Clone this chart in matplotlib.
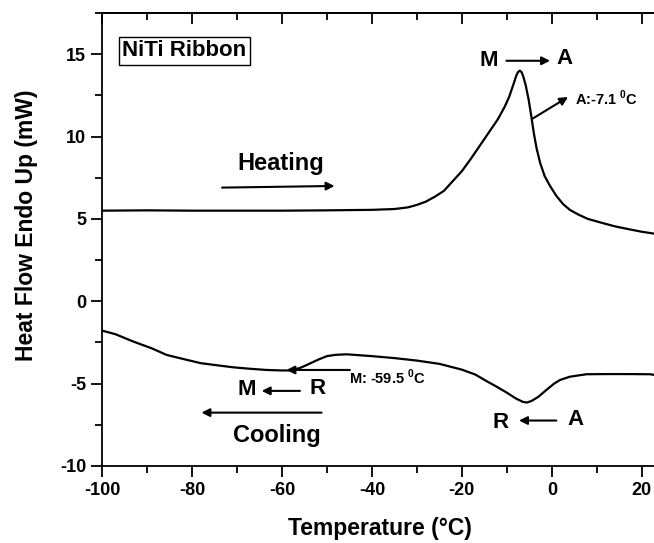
import matplotlib
matplotlib.use('Agg')
import matplotlib.pyplot as plt
from matplotlib.ticker import MultipleLocator

plt.rcParams['font.family'] = ['Liberation Sans', 'DejaVu Sans']
plt.rcParams['font.weight'] = 'bold'
plt.rcParams['axes.unicode_minus'] = False
plt.rcParams['mathtext.fontset'] = 'custom'
plt.rcParams['mathtext.rm'] = 'Liberation Sans:bold'
plt.rcParams['mathtext.bf'] = 'Liberation Sans:bold'

# heating scan
heat_T = [-100, -90, -80, -70, -60, -50, -40, -35, -32, -30, -28, -26, -24, -22, -20,
          -18, -16, -14, -12, -10.5, -9.5, -8.5, -7.9, -7.5, -7.1, -6.7, -6.3, -5.8, -5.2,
          -4.6, -4.0, -3.4, -2.6, -1.6, -0.4, 1.0, 2.5, 4.0, 6, 8, 11.4, 14, 17, 20, 23.6]
heat_Q = [5.5, 5.52, 5.5, 5.5, 5.5, 5.52, 5.55, 5.6, 5.7, 5.85, 6.05, 6.35, 6.7, 7.3, 7.9,
          8.65, 9.45, 10.25, 11.05, 11.8, 12.4, 13.2, 13.7, 13.92, 14.0, 13.9, 13.6, 13.1, 12.3,
          11.3, 10.2, 9.3, 8.4, 7.6, 7.0, 6.4, 5.9, 5.55, 5.25, 5.0, 4.74, 4.55, 4.38, 4.22, 4.07]

# cooling scan
cool_T = [-100, -97, -93, -89, -85.6, -82, -78, -74, -70.8, -67, -63.4, -60, -58, -56,
          -54.5, -52, -50, -48, -45.6, -40, -35, -30, -25, -20, -17, -14.5, -12.3, -10,
          -8, -6.5, -5.6, -4.5, -3, -1.2, 0.5, 1.8, 4, 7.7, 12, 17, 21.8, 23.6]
cool_Q = [-1.78, -2.0, -2.45, -2.85, -3.26, -3.5, -3.76, -3.9, -4.01, -4.1, -4.17, -4.2, -4.2, -4.05,
          -3.87, -3.55, -3.33, -3.25, -3.22, -3.33, -3.45, -3.6, -3.8, -4.15, -4.45, -4.85, -5.18, -5.55,
          -5.9, -6.1, -6.15, -6.05, -5.8, -5.38, -5.0, -4.78, -4.58, -4.43, -4.42, -4.42, -4.43, -4.5]

x_ticks = [-100, -80, -60, -40, -20, 0, 20]
y_ticks = [-10, -5, 0, 5, 10, 15]

fig = plt.figure(figsize=(6.54, 5.43), dpi=100)
ax = fig.add_axes([102 / 654, 77 / 543, 556 / 654, 453 / 543])

ax.plot(heat_T, heat_Q, color='black', lw=1.6)
ax.plot(cool_T, cool_Q, color='black', lw=1.6)

ax.set_xlim(-100, 23.6)
ax.set_ylim(-10, 17.5)
ax.set_xticks(x_ticks)
ax.set_yticks(y_ticks)
ax.xaxis.set_minor_locator(MultipleLocator(10))
ax.yaxis.set_minor_locator(MultipleLocator(2.5))
ax.tick_params(which='major', direction='out', length=8, width=1.3, labelsize=13)
ax.tick_params(which='minor', direction='out', length=5, width=1.3)
ax.spines['right'].set_visible(False)
for s in ['left', 'bottom', 'top']:
    ax.spines[s].set_linewidth(1.3)

top = ax.secondary_xaxis('top')
top.set_xticks(x_ticks)
top.xaxis.set_minor_locator(MultipleLocator(10))
top.tick_params(which='major', direction='in', length=8, width=1.3, labeltop=False)
top.tick_params(which='minor', direction='in', length=5, width=1.3)
top.spines['top'].set_linewidth(1.3)

ax.set_xlabel('Temperature (°C)', fontsize=16.5, fontweight='bold', labelpad=13)
ax.set_ylabel('Heat Flow Endo Up (mW)', fontsize=16.5, fontweight='bold')
ax.yaxis.set_label_coords(-0.1155, 0.532)

ax.text(-95.5, 15.2, 'NiTi Ribbon', fontsize=16, fontweight='bold', va='center', ha='left',
        bbox=dict(boxstyle='square,pad=0.15', fc='white', ec='black', lw=1))

arr = dict(arrowstyle='-|>', color='black', lw=1.5, mutation_scale=12, shrinkA=0, shrinkB=0)

# heating
ax.text(-60.2, 8.34, 'Heating', fontsize=17, fontweight='bold', ha='center', va='center')
ax.annotate('', xy=(-48.3, 7.0), xytext=(-73.3, 6.9), arrowprops=arr)
ax.text(-14.0, 14.6, 'M', fontsize=16, fontweight='bold', ha='center', va='center')
ax.annotate('', xy=(-0.4, 14.6), xytext=(-10.1, 14.6), arrowprops=arr)
ax.text(2.9, 14.75, 'A', fontsize=16, fontweight='bold', ha='center', va='center')
ax.annotate('', xy=(3.6, 12.4), xytext=(-4.2, 11.1), arrowprops=arr)
ax.text(5.1, 12.3, r'A:-7.1 $^{0}$C', fontsize=10.5, fontweight='bold', ha='left', va='center')

# cooling
ax.annotate('', xy=(-59.0, -4.17), xytext=(-44.9, -4.17), arrowprops=arr)
ax.text(-45.1, -4.6, r'M: -59.5 $^{0}$C', fontsize=10.5, fontweight='bold', ha='left', va='center')
ax.text(-67.8, -5.37, 'M', fontsize=16, fontweight='bold', ha='center', va='center')
ax.annotate('', xy=(-64.5, -5.44), xytext=(-56.0, -5.44), arrowprops=arr)
ax.text(-52.1, -5.27, 'R', fontsize=16, fontweight='bold', ha='center', va='center')
ax.annotate('', xy=(-77.9, -6.76), xytext=(-51.2, -6.76), arrowprops=arr)
ax.text(-61.2, -8.15, 'Cooling', fontsize=17, fontweight='bold', ha='center', va='center')
ax.text(-11.4, -7.38, 'R', fontsize=16, fontweight='bold', ha='center', va='center')
ax.annotate('', xy=(-7.3, -7.24), xytext=(1.0, -7.24), arrowprops=arr)
ax.text(5.3, -7.2, 'A', fontsize=16, fontweight='bold', ha='center', va='center')

fig.savefig('out.png', dpi=100)
